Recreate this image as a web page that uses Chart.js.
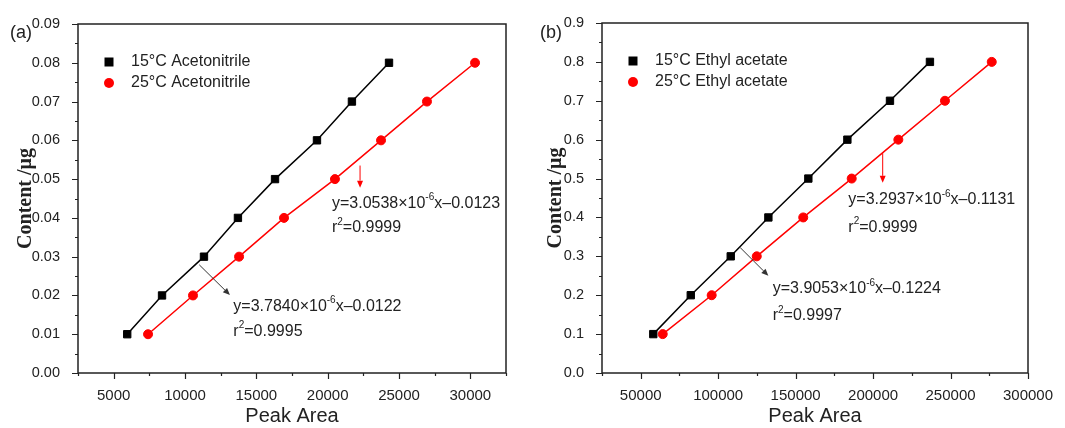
<!DOCTYPE html>
<html>
<head>
<meta charset="utf-8">
<script src="https://cdn.jsdelivr.net/npm/chart.js@4.4.0/dist/chart.umd.min.js"></script>
<style>
  body { margin: 0; background: #fff; }
  #wrap { position: relative; width: 1065px; height: 428px; }
  #chartA { position: absolute; left: 0; top: 0; }
  #chartB { position: absolute; left: 530px; top: 0; }
</style>
</head>
<body>
<div id="wrap">
  <canvas id="chartA" width="530" height="428"></canvas>
  <canvas id="chartB" width="535" height="428"></canvas>
</div>
<script>
// panel (a) - acetonitrile
const contentA = [0.01, 0.02, 0.03, 0.04, 0.05, 0.06, 0.07, 0.08];
const area15A = [5950, 8390, 11330, 13710, 16310, 19250, 21700, 24300];
const area25A = [7410, 10560, 13790, 16940, 20510, 23740, 26960, 30330];

// panel (b) - ethyl acetate
const contentB = [0.1, 0.2, 0.3, 0.4, 0.5, 0.6, 0.7, 0.8];
const area15B = [58100, 82300, 108100, 132400, 158200, 183400, 210900, 236700];
const area25B = [64200, 95800, 124900, 154900, 186200, 216300, 246400, 276600];

const labelsA = ['15\u00B0C Acetonitrile', '25\u00B0C Acetonitrile'];
const labelsB = ['15\u00B0C Ethyl acetate', '25\u00B0C Ethyl acetate'];

// fit equations, parts flagged true are superscripts
const eqA25 = [['y=3.0538\u00D710', false], ['-6', true], ['x\u20130.0123', false]];
const r2A25 = [['r', false], ['2', true], ['=0.9999', false]];
const eqA15 = [['y=3.7840\u00D710', false], ['-6', true], ['x\u20130.0122', false]];
const r2A15 = [['r', false], ['2', true], ['=0.9995', false]];
const eqB25 = [['y=3.2937\u00D710', false], ['-6', true], ['x\u20130.1131', false]];
const r2B25 = [['r', false], ['2', true], ['=0.9999', false]];
const eqB15 = [['y=3.9053\u00D710', false], ['-6', true], ['x\u20130.1224', false]];
const r2B15 = [['r', false], ['2', true], ['=0.9997', false]];

const FONT = '"Liberation Sans", Arial, sans-serif';
const INK = '#222';

const toPts = (xs, ys) => xs.map((v, i) => ({ x: v, y: ys[i] }));

function drawRich(ctx, parts, x, y) {
    let cx = x;
    parts.forEach(([s, sup]) => {
        ctx.font = (sup ? '10px ' : '16px ') + FONT;
        ctx.fillText(s, cx, sup ? y - 6 : y);
        cx += ctx.measureText(s).width;
    });
}

function arrow(ctx, x1, y1, x2, y2, color) {
    const ang = Math.atan2(y2 - y1, x2 - x1);
    const hl = 7, hw = 3;
    const bx = x2 - hl * Math.cos(ang), by = y2 - hl * Math.sin(ang);
    ctx.strokeStyle = color;
    ctx.fillStyle = color;
    ctx.lineWidth = 1;
    ctx.beginPath();
    ctx.moveTo(x1, y1);
    ctx.lineTo(bx, by);
    ctx.stroke();
    ctx.beginPath();
    ctx.moveTo(x2, y2);
    ctx.lineTo(bx + hw * Math.sin(ang), by - hw * Math.cos(ang));
    ctx.lineTo(bx - hw * Math.sin(ang), by + hw * Math.cos(ang));
    ctx.closePath();
    ctx.fill();
}

// frame, outward ticks, legend, panel letter and fit notes
const extras = {
    id: 'extras',
    afterDraw(chart, args, opts) {
        const { ctx, chartArea: a, scales: { x, y } } = chart;
        ctx.save();
        ctx.strokeStyle = INK;
        ctx.lineWidth = 1.5;
        ctx.strokeRect(a.left, a.top, a.right - a.left, a.bottom - a.top);

        ctx.lineWidth = 1.2;
        ctx.beginPath();
        x.ticks.forEach(t => {
            const px = Math.round(x.getPixelForValue(t.value)) + 0.5;
            ctx.moveTo(px, a.bottom);
            ctx.lineTo(px, a.bottom + (t.label ? 6 : 3));
        });
        y.ticks.forEach(t => {
            const py = Math.round(y.getPixelForValue(t.value)) + 0.5;
            ctx.moveTo(a.left, py);
            ctx.lineTo(a.left - (t.label ? 6 : 3), py);
        });
        ctx.stroke();

        // panel letter
        ctx.fillStyle = INK;
        ctx.textBaseline = 'middle';
        ctx.textAlign = 'left';
        ctx.font = '18px ' + FONT;
        ctx.fillText(opts.letter, 10, 33);

        // legend
        chart.data.datasets.forEach((ds, i) => {
            const lx = a.left + 31, ly = a.top + 38 + i * 21;
            ctx.fillStyle = ds.pointBackgroundColor;
            ctx.beginPath();
            if (ds.pointStyle === 'rect') {
                ctx.rect(lx - 4.5, ly - 4.5, 9, 9);
            } else {
                ctx.arc(lx, ly, 5, 0, Math.PI * 2);
            }
            ctx.fill();
            ctx.fillStyle = INK;
            ctx.font = '16px ' + FONT;
            ctx.fillText(ds.label, a.left + 53, ly);
        });

        // fit notes
        opts.notes.forEach(n => {
            arrow(ctx, x.getPixelForValue(n.from[0]), y.getPixelForValue(n.from[1]),
                  x.getPixelForValue(n.to[0]), y.getPixelForValue(n.to[1]), n.color);
            ctx.fillStyle = INK;
            drawRich(ctx, n.eq, x.getPixelForValue(n.at[0]), y.getPixelForValue(n.at[1]));
            drawRich(ctx, n.r2, x.getPixelForValue(n.at[0]), y.getPixelForValue(n.at[2]));
        });
        ctx.restore();
    }
};

function makeChart(id, cfg) {
    const dataset = (label, pts, color, style) => ({
        label: label,
        data: pts,
        showLine: true,
        borderColor: color,
        borderWidth: 1.5,
        pointStyle: style,
        pointRadius: style === 'rect' ? 5.2 : 4.5,
        pointBorderWidth: 1,
        pointBackgroundColor: color,
        pointBorderColor: color
    });
    return new Chart(document.getElementById(id), {
        type: 'scatter',
        data: {
            datasets: [
                dataset(cfg.labels[0], cfg.black, '#000', 'rect'),
                dataset(cfg.labels[1], cfg.red, '#ff0000', 'circle')
            ]
        },
        options: {
            responsive: false,
            animation: false,
            events: [],
            layout: { padding: { left: 0, top: cfg.top, right: cfg.right, bottom: 0 } },
            plugins: {
                legend: { display: false },
                tooltip: { enabled: false },
                extras: { letter: cfg.letter, notes: cfg.notes }
            },
            scales: {
                x: {
                    type: 'linear',
                    min: cfg.xMin,
                    max: cfg.xMax,
                    grid: { display: false },
                    border: { display: false },
                    ticks: {
                        stepSize: cfg.xStep / 2,
                        autoSkip: false,
                        maxRotation: 0,
                        padding: 6,
                        color: INK,
                        font: { family: FONT, size: 15 },
                        callback: v => (v % cfg.xStep === 0 ? String(v) : '')
                    },
                    title: {
                        display: true,
                        text: 'Peak Area',
                        color: INK,
                        font: { family: FONT, size: 20 },
                        padding: { top: 0, bottom: 0 }
                    },
                    afterFit: s => { s.height = 55; }
                },
                y: {
                    min: 0,
                    max: cfg.yMax,
                    grid: { display: false },
                    border: { display: false },
                    ticks: {
                        stepSize: cfg.yStep / 2,
                        autoSkip: false,
                        padding: 10,
                        color: INK,
                        font: { family: FONT, size: 14.5 },
                        callback: v => {
                            const k = Math.round(v / cfg.yStep * 2);
                            return k % 2 === 0 ? (k / 2 * cfg.yStep).toFixed(cfg.yDec) : '';
                        }
                    },
                    title: {
                        display: true,
                        text: 'Content /\u03BCg',
                        color: INK,
                        font: { family: '"Liberation Serif", "Times New Roman", serif', size: 20, weight: 'bold' },
                        padding: { top: 14, bottom: 0 }
                    },
                    afterFit: s => { s.width = cfg.yWidth; }
                }
            }
        },
        plugins: [extras]
    });
}

makeChart('chartA', {
    letter: '(a)',
    labels: labelsA,
    black: toPts(area15A, contentA),
    red: toPts(area25A, contentA),
    xMin: 2500, xMax: 32500, xStep: 5000,
    yMax: 0.09, yStep: 0.01, yDec: 2,
    yWidth: 78, top: 24, right: 24,
    notes: [
        { color: '#ff0000', from: [22270, 0.0535], to: [22270, 0.0478], eq: eqA25, r2: r2A25, at: [20300, 0.0438, 0.0374] },
        { color: '#333', from: [11000, 0.0279], to: [13150, 0.0201], eq: eqA15, r2: r2A15, at: [13390, 0.0171, 0.0107] }
    ]
});

makeChart('chartB', {
    letter: '(b)',
    labels: labelsB,
    black: toPts(area15B, contentB),
    red: toPts(area25B, contentB),
    xMin: 25000, xMax: 300000, xStep: 50000,
    yMax: 0.9, yStep: 0.1, yDec: 1,
    yWidth: 72, top: 23, right: 37,
    notes: [
        { color: '#ff0000', from: [206200, 0.565], to: [206200, 0.489], eq: eqB25, r2: r2B25, at: [184000, 0.445, 0.375] },
        { color: '#333', from: [114100, 0.323], to: [132400, 0.250], eq: eqB15, r2: r2B15, at: [135200, 0.216, 0.147] }
    ]
});
</script>
</body>
</html>
